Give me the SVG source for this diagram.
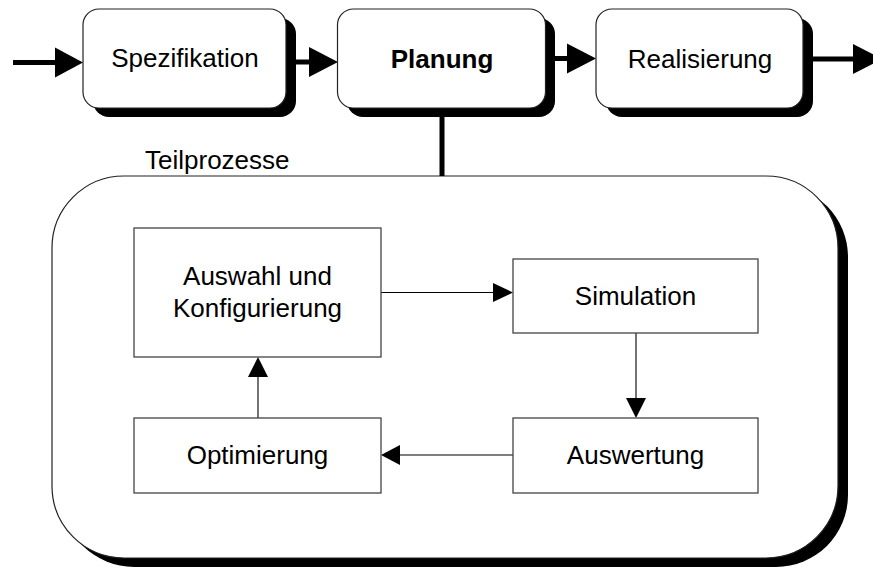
<svg xmlns="http://www.w3.org/2000/svg" width="873" height="569" viewBox="0 0 873 569">
  <defs>
    <style>
      .lbl { font-family: "Liberation Sans", Arial, sans-serif; font-size: 26px; fill: #000; text-anchor: middle; }
      .bold { font-weight: bold; }
      .shadow { fill: #000; stroke: none; }
      .phase { fill: #fff; stroke: #222; stroke-width: 1.2; }
      .step { fill: #fff; stroke: #444; stroke-width: 1.3; }
      .thick { stroke: #000; stroke-width: 5; fill: none; }
      .thin { stroke: #000; stroke-width: 1.1; fill: none; }
      .head { fill: #000; stroke: none; }
    </style>
  </defs>
  <rect width="873" height="569" fill="#fff"/>

  <!-- Sub-process container -->
  <g id="teilprozesse">
    <rect class="shadow" x="62" y="185" width="786" height="382" rx="72" ry="72"/>
    <rect class="phase" x="52" y="176" width="786" height="382" rx="72" ry="72"/>
    <text class="lbl" x="145" y="169" style="text-anchor:start">Teilprozesse</text>
  </g>

  <!-- Connectors -->
  <g id="connectors">
    <!-- main process flow -->
    <line class="thick" x1="13" y1="62.5" x2="57" y2="62.5"/>
    <polygon class="head" points="55,47.5 83,62.5 55,77.5"/>
    <line class="thick" x1="296" y1="62" x2="311" y2="62"/>
    <polygon class="head" points="309,47 338,62 309,77"/>
    <line class="thick" x1="554" y1="58.5" x2="569" y2="58.5"/>
    <polygon class="head" points="567,43.5 596,58.5 567,73.5"/>
    <line class="thick" x1="813" y1="59" x2="855" y2="59"/>
    <polygon class="head" points="853,44 882,59 853,74"/>
    <!-- Planung to its sub-processes -->
    <line class="thick" x1="442" y1="108" x2="442" y2="176"/>
    <!-- sub-process cycle -->
    <line class="thin" x1="381" y1="292.5" x2="495" y2="292.5"/>
    <polygon class="head" points="493,283 513,292.5 493,302"/>
    <line class="thin" x1="636" y1="333" x2="636" y2="400"/>
    <polygon class="head" points="626,398 636,418 646,398"/>
    <line class="thin" x1="513" y1="455" x2="398" y2="455"/>
    <polygon class="head" points="400,445 381,455 400,465"/>
    <line class="thin" x1="258" y1="418" x2="258" y2="375"/>
    <polygon class="head" points="248,377 258,357 268,377"/>
  </g>

  <!-- Main phases -->
  <g id="spezifikation">
    <rect class="shadow" x="93" y="18" width="203" height="99" rx="16" ry="16"/>
    <rect class="phase" x="83" y="9" width="203" height="99" rx="16" ry="16"/>
    <text class="lbl" x="185" y="67">Spezifikation</text>
  </g>
  <g id="planung">
    <rect class="shadow" x="347" y="18" width="208" height="99" rx="16" ry="16"/>
    <rect class="phase" x="337.5" y="9" width="208" height="99" rx="16" ry="16"/>
    <text class="lbl bold" x="442" y="68">Planung</text>
  </g>
  <g id="realisierung">
    <rect class="shadow" x="606" y="18" width="207" height="99" rx="16" ry="16"/>
    <rect class="phase" x="596" y="9" width="207" height="99" rx="16" ry="16"/>
    <text class="lbl" x="700" y="68">Realisierung</text>
  </g>

  <!-- Sub-process steps -->
  <g id="auswahl">
    <rect class="step" x="134" y="228" width="247" height="129"/>
    <text class="lbl" x="257.5" y="285">Auswahl und</text>
    <text class="lbl" x="257.5" y="317">Konfigurierung</text>
  </g>
  <g id="simulation">
    <rect class="step" x="513" y="259" width="245" height="74"/>
    <text class="lbl" x="635.5" y="305">Simulation</text>
  </g>
  <g id="auswertung">
    <rect class="step" x="513" y="418" width="245" height="75"/>
    <text class="lbl" x="635.5" y="464">Auswertung</text>
  </g>
  <g id="optimierung">
    <rect class="step" x="134" y="418" width="247" height="75"/>
    <text class="lbl" x="257.5" y="464">Optimierung</text>
  </g>
</svg>
